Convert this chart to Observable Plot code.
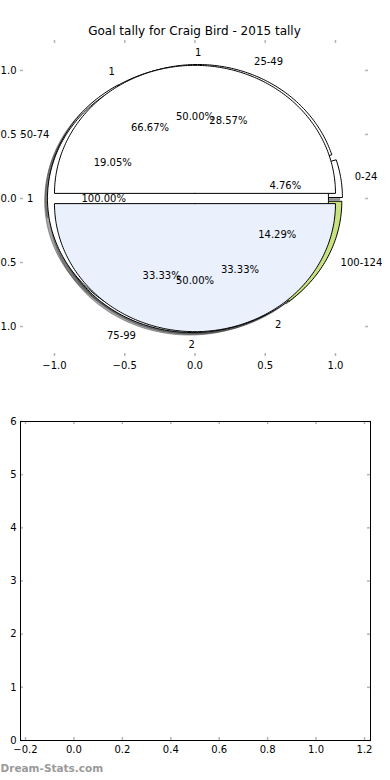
<!DOCTYPE html>
<html>
<head>
<meta charset="utf-8">
<script src="https://cdn.jsdelivr.net/npm/d3@7"></script>
<script src="https://cdn.jsdelivr.net/npm/@observablehq/plot@0.6"></script>
<style>
  html, body { margin: 0; padding: 0; background: white; }
  svg { display: block; }
</style>
</head>
<body>
<div id="top"></div>
<div id="bottom"></div>
<script>
// ---------- data ----------
const titleText = "Goal tally for Craig Bird - 2015 tally";
const watermark = "Dream-Stats.com";

const rangeLabels = ["0-24", "25-49", "50-74", "75-99", "100-124"];
const rangeValues = [1, 6, 4, 7, 3];
const rangeColors = ["#ffffff", "#ffffff", "#ffffff", "#ffffff", "#c7e27f"];

const splitLabels = ["1", "2"];
const splitValues = [2, 1];
const splitColors = ["#ffffff", "#ffffff"];

const wholeLabels = ["1"];
const wholeValues = [1];
const wholeColors = ["#ffffff"];

const halfLabels = ["1", "2"];
const halfValues = [1, 1];
const halfColors = ["#ffffff", "#eaf1fd"];

const pieXTicks = [-1, -0.5, 0, 0.5, 1];
const pieYTicks = [-1, -0.5, 0, 0.5, 1];
const emptyXTicks = [-0.2, 0, 0.2, 0.4, 0.6, 0.8, 1.0, 1.2];
const emptyYTicks = [0, 1, 2, 3, 4, 5, 6];

// ---------- build wedges (matplotlib-style pies: start at 0°, counter-clockwise) ----------
const pies = [
  {name: "split",  labels: splitLabels, values: splitValues, colors: splitColors, explode: 0.04},
  {name: "ranges", labels: rangeLabels, values: rangeValues, colors: rangeColors, explode: 0.05},
  {name: "whole",  labels: wholeLabels, values: wholeValues, colors: wholeColors, explode: 0.05},
  {name: "halves", labels: halfLabels,  values: halfValues,  colors: halfColors,  explode: 0.04}
];

function darken(c) {
  const col = d3.rgb(c);
  return d3.rgb(col.r * 0.3, col.g * 0.3, col.b * 0.3).formatHex();
}

const wedgePts = [];
const shadowPts = [];
const labelRows = [];
const pctRows = [];
pies.forEach((p, pi) => {
  const total = d3.sum(p.values);
  let acc = 0;
  p.values.forEach((v, i) => {
    const frac = v / total;
    const t1 = acc * 360, t2 = (acc + frac) * 360;
    acc += frac;
    const tm = (t1 + t2) / 2 * Math.PI / 180;
    const cx = p.explode * Math.cos(tm), cy = p.explode * Math.sin(tm);
    const id = p.name + i;
    const pts = [];
    if (frac < 1) pts.push([cx, cy]);
    const n = Math.max(2, Math.ceil((t2 - t1) / 1));
    for (let k = 0; k <= n; k++) {
      const a = (t1 + (t2 - t1) * k / n) * Math.PI / 180;
      pts.push([cx + Math.cos(a), cy + Math.sin(a)]);
    }
    if (frac < 1) pts.push([cx, cy]);
    pts.forEach(([x, y], k) => {
      wedgePts.push({id, x, y, fill: p.colors[i], k});
      shadowPts.push({id: "s" + id, x: x - 0.02, y: y - 0.02, fill: darken(p.colors[i]), k});
    });
    const xt = cx + 1.1 * Math.cos(tm), yt = cy + 1.1 * Math.sin(tm);
    labelRows.push({x: xt, y: yt, text: p.labels[i], anchor: xt > 0 ? "start" : "end"});
    pctRows.push({x: cx + 0.6 * Math.cos(tm), y: cy + 0.6 * Math.sin(tm), text: (frac * 100).toFixed(2) + "%"});
  });
});

const font = {fontFamily: "DejaVu Sans, sans-serif", fontSize: "10px", color: "black", background: "white"};
const tickGray = "#b4b4b4";

// ---------- top chart: pies ----------
const topH = 380, topMT = 40, topMB = 24;
const topInnerH = topH - topMT - topMB;
const topInnerW = 390 - 20 - 22;

const topChart = Plot.plot({
  width: 390,
  height: topH,
  marginTop: topMT,
  marginBottom: topMB,
  marginLeft: 20,
  marginRight: 22,
  style: font,
  x: {domain: [-1.242, 1.235]},
  y: {domain: [-1.234, 1.234]},
  color: {type: "identity"},
  marks: [
    // shadows (below all wedges)
    Plot.line(shadowPts, {x: "x", y: "y", z: "id", fill: "fill", stroke: "fill", fillOpacity: 0.5, strokeOpacity: 0.5, strokeWidth: 1, curve: "linear"}),
    // wedges in drawing order
    Plot.line(wedgePts, {x: "x", y: "y", z: "id", fill: "fill", stroke: "black", strokeWidth: 1, curve: "linear", strokeLinejoin: "miter"}),
    // inward gray tick marks on four sides
    Plot.ruleX(pieXTicks, {x: d => d, stroke: tickGray, strokeWidth: 1.5, insetBottom: topInnerH - 3}),
    Plot.ruleX(pieXTicks, {x: d => d, stroke: tickGray, strokeWidth: 1.5, insetTop: topInnerH - 3}),
    Plot.ruleY(pieYTicks, {y: d => d, stroke: tickGray, strokeWidth: 1.5, insetRight: topInnerW - 3}),
    Plot.ruleY(pieYTicks, {y: d => d, stroke: tickGray, strokeWidth: 1.5, insetLeft: topInnerW - 3}),
    Plot.axisX(pieXTicks, {anchor: "bottom", tickSize: 0, tickPadding: 5, tickFormat: d3.format(".1f"), label: null, fontSize: 10}),
    Plot.axisY(pieYTicks, {anchor: "left", tickSize: 0, tickPadding: 4, tickFormat: d3.format(".1f"), label: null, fontSize: 10}),
    // labels
    Plot.text(labelRows.filter(d => d.anchor === "start"), {x: "x", y: "y", text: "text", textAnchor: "start", fill: "black", fontSize: 10}),
    Plot.text(labelRows.filter(d => d.anchor === "end"), {x: "x", y: "y", text: "text", textAnchor: "end", fill: "black", fontSize: 10}),
    Plot.text(pctRows, {x: "x", y: "y", text: "text", textAnchor: "middle", fill: "black", fontSize: 10}),
    // title
    Plot.text([titleText], {frameAnchor: "top", dy: -14, fontSize: 12, fill: "black"})
  ]
});
document.getElementById("top").appendChild(topChart);

// ---------- bottom chart: empty axes ----------
const botH = 400, botMT = 41, botMB = 40;
const botInnerH = botH - botMT - botMB;
const botInnerW = 390 - 20 - 20;

const bottomChart = Plot.plot({
  width: 390,
  height: botH,
  marginTop: botMT,
  marginBottom: botMB,
  marginLeft: 20,
  marginRight: 20,
  style: font,
  x: {domain: [-0.2207, 1.2248]},
  y: {domain: [0, 6]},
  marks: [
    Plot.ruleX(emptyXTicks, {x: d => d, stroke: tickGray, strokeWidth: 1.5, insetBottom: botInnerH - 3}),
    Plot.ruleX(emptyXTicks, {x: d => d, stroke: tickGray, strokeWidth: 1.5, insetTop: botInnerH - 3}),
    Plot.ruleY(emptyYTicks, {y: d => d, stroke: tickGray, strokeWidth: 1.5, insetRight: botInnerW - 3}),
    Plot.ruleY(emptyYTicks, {y: d => d, stroke: tickGray, strokeWidth: 1.5, insetLeft: botInnerW - 3}),
    Plot.frame({stroke: "black", strokeWidth: 1}),
    Plot.axisX(emptyXTicks, {anchor: "bottom", tickSize: 0, tickPadding: 5, tickFormat: d3.format(".1f"), label: null, fontSize: 10}),
    Plot.axisY(emptyYTicks, {anchor: "left", tickSize: 0, tickPadding: 4, tickFormat: d3.format("d"), label: null, fontSize: 10}),
    Plot.text([watermark], {frameAnchor: "bottom-left", dx: -20, dy: 31, textAnchor: "start", fill: "#9a9a9a", fontWeight: "bold", fontSize: 10.5})
  ]
});
document.getElementById("bottom").appendChild(bottomChart);
</script>
</body>
</html>
